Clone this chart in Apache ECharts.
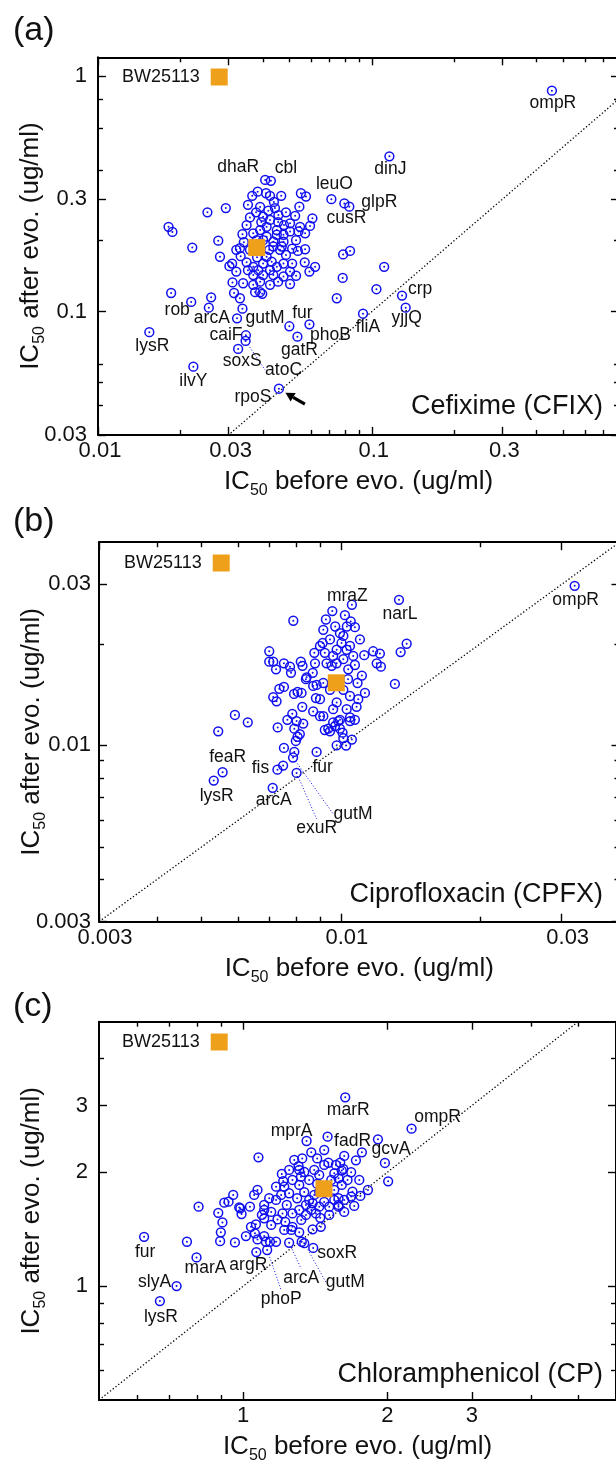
<!DOCTYPE html>
<html><head><meta charset="utf-8">
<script src="https://cdn.jsdelivr.net/npm/echarts@6/dist/echarts.min.js"></script>
<style>html,body{margin:0;padding:0;background:#fff}#c{width:616px;height:1464px}</style>
</head><body><div id="c"></div>
<script>
// ================= Panel (a): Cefixime =================
const aTitle = 'Cefixime (CFIX)';
const aGenes = ['ompR','dinJ','leuO','glpR','cusR','crp','yjjQ','fliA','phoB','lysR','ilvY','rob','arcA','gutM','caiF','atoC','soxS','rpoS','fur','gatR','dhaR','cbl'];
const aGeneX = [0.455,0.116,0.0712,0.0828,0.0607,0.129,0.133,0.0929,0.0592,0.0154,0.0223,0.0219,0.0254,0.0322,0.0347,0.0346,0.0325,0.0458,0.050,0.0535,0.0408,0.0428];
const aGeneY = [0.866,0.456,0.300,0.279,0.249,0.117,0.104,0.098,0.0884,0.0818,0.0584,0.110,0.104,0.0937,0.0794,0.0751,0.0695,0.0471,0.0867,0.0783,0.362,0.359];
const aX = [0.0794,0.104,0.111,0.0745,0.0783,0.0786,0.0833,0.0571,0.0569,0.0592,0.0621,0.0185,0.0259,0.0310,0.0314,0.0339,0.0330,0.0337,0.0369,0.0391,0.0398,0.0302,0.0279,0.0221,0.0275,0.0181,0.0187,0.0251,0.0293,0.0383,0.0411,0.0467,0.0439,0.0391,0.0419,0.0456,0.0401,0.0425,0.0551,0.0575,0.0544,0.0525,0.0349,0.0337,0.0369,0.0391,0.0413,0.0450,0.0476,0.0503,0.0540,0.0571,0.0401,0.0437,0.0469,0.0330,0.0547,0.0595,0.0332,0.0349,0.0537,0.0380,0.0413,0.0450,0.0476,0.0437,0.0462,0.0413,0.0431,0.0450,0.0476,0.0369,0.0385,0.0401,0.0369,0.0437,0.0476,0.0503,0.0401,0.0425,0.0359,0.0422,0.0381,0.0486,0.0512,0.0353,0.0391,0.0425,0.0455,0.0359,0.0378,0.0478,0.0503,0.0529,0.0512,0.0341,0.0320,0.0395,0.0455,0.0486,0.0353,0.0366,0.0425,0.0443,0.0309,0.0320,0.0503,0.0529,0.0375];
const aY = [0.288,0.1245,0.155,0.114,0.139,0.175,0.181,0.184,0.162,0.148,0.155,0.120,0.115,0.133,0.120,0.132,0.114,0.103,0.130,0.121,0.119,0.156,0.171,0.187,0.200,0.229,0.218,0.264,0.275,0.323,0.318,0.310,0.292,0.278,0.268,0.257,0.253,0.245,0.318,0.308,0.279,0.255,0.233,0.213,0.215,0.222,0.229,0.222,0.212,0.237,0.219,0.215,0.201,0.198,0.189,0.186,0.229,0.231,0.172,0.162,0.181,0.201,0.208,0.212,0.198,0.189,0.183,0.171,0.163,0.155,0.160,0.155,0.150,0.143,0.143,0.143,0.141,0.148,0.160,0.150,0.183,0.183,0.170,0.174,0.160,0.150,0.134,0.130,0.134,0.251,0.264,0.233,0.219,0.201,0.185,0.197,0.183,0.240,0.240,0.264,0.284,0.310,0.310,0.275,0.160,0.148,0.131,0.142,0.121];
const aWT = [0.038, 0.187];
const aXRange = [0.01, 0.8];
const aYRange = [0.03, 1.2];
const aXTicks = ['0.01','0.03','0.1','0.3'];
const aXMinor = [0.02,0.04,0.05,0.06,0.07,0.08,0.09,0.2,0.4,0.5,0.6,0.7];
const aYTicks = ['0.03','0.1','0.3','1'];
const aYMinor = [0.04,0.05,0.06,0.2,0.4,0.6,0.8];

// ================= Panel (b): Ciprofloxacin =================
const bTitle = 'Ciprofloxacin (CPFX)';
const bGenes = ['ompR','narL','mraZ','feaR','lysR','fis','arcA','fur','exuR','gutM'];
const bGeneX = [0.0320,0.01335,0.00958,0.00555,0.00531,0.00729,0.00712,0.00886,0.00802,0.00788];
const bGeneY = [0.0297,0.0270,0.0250,0.00832,0.00786,0.00847,0.00748,0.00956,0.00828,0.00920];
const bX = [0.0102,0.0105,0.0103,0.00972,0.00916,0.01387,0.01346,0.01308,0.01174,0.01214,0.01195,0.01220,0.01123,0.01086,0.01127,0.01081,0.00789,0.00700,0.00700,0.00714,0.00724,0.00753,0.00776,0.00780,0.00819,0.00826,0.00876,0.00879,0.00869,0.00901,0.00840,0.00886,0.00736,0.00753,0.00792,0.00806,0.00714,0.00726,0.00883,0.00825,0.00871,0.00785,0.00766,0.00802,0.00829,0.00730,0.00793,0.00806,0.00590,0.00629,0.00543,0.00901,0.00799,0.00753,0.00793,0.00750,0.00923,0.00947,0.00971,0.00987,0.01008,0.01012,0.00979,0.01046,0.00815,0.00843,0.00913,0.00923,0.00931,0.00962,0.00979,0.01003,0.01012,0.00995,0.01029,0.01046,0.01063,0.01037,0.00979,0.01012,0.00955,0.00871,0.00916,0.00822,0.00916,0.00962,0.00995,0.00939,0.00962,0.01029,0.01072,0.01046,0.00995,0.00901,0.00979,0.01046,0.01012,0.01090,0.00947,0.01036,0.01072,0.01099,0.00947,0.00928,0.01072,0.01056,0.01110,0.01056,0.01026];
const bY = [0.0243,0.0233,0.0225,0.0225,0.0220,0.0200,0.0189,0.0152,0.0190,0.0187,0.0175,0.0171,0.0185,0.0153,0.0143,0.0130,0.0234,0.0190,0.0177,0.0177,0.0168,0.0175,0.0171,0.0164,0.0177,0.0172,0.0188,0.0175,0.0164,0.0197,0.0157,0.0151,0.0147,0.0149,0.0142,0.0144,0.0139,0.0135,0.0138,0.0130,0.0126,0.0124,0.0119,0.0118,0.0116,0.0113,0.0112,0.0106,0.0123,0.0117,0.0110,0.0122,0.0103,0.00982,0.00956,0.00871,0.0111,0.0110,0.0114,0.0118,0.0109,0.0105,0.0100,0.0118,0.0108,0.0159,0.0201,0.0188,0.0175,0.0184,0.0192,0.0201,0.0211,0.0215,0.0192,0.0197,0.0184,0.0168,0.0175,0.0180,0.0172,0.0150,0.0153,0.0143,0.0122,0.0117,0.0112,0.0112,0.0128,0.0128,0.0119,0.0121,0.0119,0.0137,0.0134,0.0140,0.0146,0.0137,0.0146,0.0157,0.0173,0.0206,0.0206,0.0236,0.0224,0.0261,0.0161,0.0104,0.00998];
const bWT = [0.00977, 0.01532];
const bXRange = [0.003, 0.04];
const bYRange = [0.003, 0.04];
const bXTicks = ['0.003','0.01','0.03'];
const bXMinor = [0.004,0.005,0.006,0.007,0.008,0.009,0.02];
const bYTicks = ['0.003','0.01','0.03'];
const bYMinor = [0.004,0.005,0.006,0.007,0.008,0.009,0.02];

// ================= Panel (c): Chloramphenicol =================
const cTitle = 'Chloramphenicol (CP)';
const cGenes = ['marR','ompR','gcvA','fadR','mprA','fur','slyA','lysR','marA','argR','phoP','arcA','soxR','gutM'];
const cGeneX = [1.633,2.246,1.911,1.500,1.356,0.621,0.726,0.670,0.799,1.065,1.122,1.247,1.400,1.341];
const cGeneY = [3.156,2.607,2.444,2.483,2.419,1.350,1.0,0.913,1.191,1.230,1.246,1.302,1.262,1.299];
const cX = [1.769,1.719,1.976,2.007,1.821,1.387,1.625,1.594,1.561,1.506,1.606,1.549,1.651,1.581,1.606,1.581,1.512,1.581,1.691,1.680,1.076,1.071,1.204,1.305,0.807,0.953,0.932,0.913,1.033,0.981,1.106,1.171,1.218,1.267,1.320,1.247,1.171,1.133,0.763,0.887,0.905,0.898,0.895,0.961,0.986,0.992,1.038,1.063,1.013,1.058,1.071,1.106,1.115,1.137,1.171,1.106,1.106,1.325,1.309,1.267,1.224,1.179,1.208,1.267,1.309,1.352,1.396,1.396,1.452,1.352,1.418,1.441,1.581,1.309,1.341,1.373,1.407,1.441,1.476,1.341,1.373,1.407,1.441,1.476,1.549,1.549,1.625,1.625,1.512,1.448,1.296,1.233,1.200,1.278,1.328,1.427,1.476,1.527,1.497,1.387,1.322,1.260,1.218,1.144,1.094,1.144,1.054,1.309,1.247,1.212,1.427,1.618,1.680,1.747,1.705,1.756];
const cY = [2.258,2.150,2.116,1.892,1.795,2.258,2.209,2.119,2.091,2.119,2.020,1.987,1.908,1.928,1.851,1.707,1.622,1.622,1.777,1.725,2.190,1.796,1.980,2.077,1.622,1.742,1.672,1.662,1.622,1.614,1.639,1.690,1.832,1.908,1.947,1.760,1.832,1.707,1.310,1.562,1.474,1.387,1.315,1.305,1.606,1.551,1.435,1.457,1.356,1.379,1.329,1.356,1.310,1.310,1.310,1.511,1.590,1.310,1.387,1.435,1.479,1.501,1.557,1.557,1.590,1.639,1.656,1.413,1.435,1.542,1.557,1.622,1.639,1.851,1.773,1.908,2.028,1.967,2.091,2.003,1.690,1.742,1.773,1.669,1.796,1.690,1.690,1.571,1.542,1.515,1.707,1.639,1.742,2.155,2.176,2.176,2.290,1.908,1.796,1.590,1.496,1.408,1.408,1.451,1.542,1.571,1.742,2.028,2.028,1.895,1.863,2.041,2.000,1.908,1.629,1.731];
const cWT = [1.474, 1.809];
const cXRange = [0.5, 6];
const cYRange = [0.5, 5];
const cXTicks = ['1','2','3'];
const cXMinor = [0.6,0.7,0.8,0.9,4,5];
const cYTicks = ['1','2','3'];
const cYMinor = [0.6,0.7,0.8,0.9,4];

// ================= styling / layout (not data) =================
const FONT = '"Liberation Sans", Arial, Helvetica, sans-serif';
const BLUE = '#1010f0';
const ORANGE = '#eea01a';
const INK = '#111';
const L = Math.log10;

const panels = [
  {title:aTitle, genes:aGenes, gx:aGeneX, gy:aGeneY, x:aX, y:aY, wt:aWT, xr:aXRange, yr:aYRange,
   xt:aXTicks, xm:aXMinor, yt:aYTicks, ym:aYMinor, xPad:[0,0,0,4],
   grid:{left:98, top:57.3, width:521, height:377.6}, letter:'(a)', letterY:31, titleY:407,
   legend:{left:122, top:68}, leaders:['atoC'],
   off:{ompR:[1,12],dinJ:[1,13],leuO:[3,-15],glpR:[30,-4],cusR:[34,0],crp:[18,-6],yjjQ:[1,11],fliA:[5,13],phoB:[21,11],lysR:[3,14],ilvY:[0,14],rob:[-14,8],arcA:[3,11],gutM:[28,0],caiF:[-20,0],atoC:[38,29],soxS:[4,12],rpoS:[-26,8],fur:[13,-13],gatR:[2,13],dhaR:[-27,-13],cbl:[15,-13]}},
  {title:bTitle, genes:bGenes, gx:bGeneX, gy:bGeneY, x:bX, y:bY, wt:bWT, xr:bXRange, yr:bYRange,
   xt:bXTicks, xm:bXMinor, yt:bYTicks, ym:bYMinor, xPad:[0,0,0,12],
   grid:{left:99, top:542.2, width:520.5, height:379.5}, letter:'(b)', letterY:522, titleY:895,
   legend:{left:124, top:554}, leaders:['exuR','gutM'],
   off:{ompR:[1,14],narL:[1,14],mraZ:[15,-15],feaR:[5,-15],lysR:[3,16],fis:[-17,-1],arcA:[1,12],fur:[6,15],exuR:[20,55],gutM:[60,57]}},
  {title:cTitle, genes:cGenes, gx:cGeneX, gy:cGeneY, x:cX, y:cY, wt:cWT, xr:cXRange, yr:cYRange,
   xt:cXTicks, xm:cXMinor, yt:cYTicks, ym:cYMinor, xPad:[0,0,0,0],
   grid:{left:99, top:1021.7, width:517, height:378.3}, letter:'(c)', letterY:1007, titleY:1375,
   legend:{left:122, top:1033}, leaders:['phoP','arcA','gutM'],
   off:{marR:[3,13],ompR:[26,-12],gcvA:[13,10],fadR:[25,4],mprA:[-15,-10],fur:[1,15],slyA:[-22,-4],lysR:[1,16],marA:[9,11],argR:[-8,13],phoP:[14,49],arcA:[12,35],soxR:[24,5],gutM:[41,39]}}
];

const richName = () => ({
  a:{fontSize:26, fontFamily:FONT, color:INK, lineHeight:34},
  b:{fontSize:16, fontFamily:FONT, color:INK, lineHeight:14, verticalAlign:'bottom'}
});
const fmt = (labels) => (v) => {
  for (const s of labels) if (Math.abs(L(parseFloat(s)) - v) < 1e-6) return s;
  return '';
};

const grids = [], xAxes = [], yAxes = [], series = [], legends = [], graphics = [];
panels.forEach((P, i) => {
  grids.push(Object.assign({outerBoundsMode:'none', containLabel:false}, P.grid));
  const lx = P.xr.map(L), ly = P.yr.map(L);
  const majX = P.xt.map(s => L(parseFloat(s))), minX = P.xm.map(L);
  const majY = P.yt.map(s => L(parseFloat(s))), minY = P.ym.map(L);
  const line = {show:true, onZero:false, lineStyle:{color:'#000', width:2}};
  const noLine = {show:false, onZero:false};
  const tick = (vals, len) => ({show:true, inside:true, length:len, customValues:vals, lineStyle:{color:'#000', width:1.4}});
  const base = {gridIndex:i, type:'value', splitLine:{show:false}, nameMoveOverlap:false};
  xAxes.push(Object.assign({}, base, {min:lx[0], max:lx[1], position:'bottom', axisLine:line, axisTick:tick(majX, 8),
    axisLabel:{show:true, customValues:majX, formatter:fmt(P.xt), fontSize:22, color:INK, fontFamily:FONT, margin:5, padding:P.xPad},
    name:'{a|IC}{b|50}{a| before evo. (ug/ml)}', nameLocation:'middle', nameGap:30, nameTextStyle:{rich:richName()}}));
  xAxes.push(Object.assign({}, base, {min:lx[0], max:lx[1], position:'bottom', axisLine:noLine, axisTick:tick(minX, 5), axisLabel:{show:false}}));
  xAxes.push(Object.assign({}, base, {min:lx[0], max:lx[1], position:'top', axisLine:line, axisTick:tick(majX, 8), axisLabel:{show:false}}));
  xAxes.push(Object.assign({}, base, {min:lx[0], max:lx[1], position:'top', axisLine:noLine, axisTick:tick(minX, 5), axisLabel:{show:false}}));
  yAxes.push(Object.assign({}, base, {min:ly[0], max:ly[1], position:'left', axisLine:line, axisTick:tick(majY, 8),
    axisLabel:{show:true, customValues:majY, formatter:fmt(P.yt), fontSize:22, color:INK, fontFamily:FONT, margin:i===1?8:11},
    name:'{a|IC}{b|50}{a| after evo. (ug/ml)}', nameLocation:'middle', nameRotate:90, nameGap:50, nameTextStyle:{rich:richName()}}));
  yAxes.push(Object.assign({}, base, {min:ly[0], max:ly[1], position:'left', axisLine:noLine, axisTick:tick(minY, 5), axisLabel:{show:false}}));
  yAxes.push(Object.assign({}, base, {min:ly[0], max:ly[1], position:'right', axisLine:line, axisTick:tick(majY, 8), axisLabel:{show:false}}));
  yAxes.push(Object.assign({}, base, {min:ly[0], max:ly[1], position:'right', axisLine:noLine, axisTick:tick(minY, 5), axisLabel:{show:false}}));

  const xi = 4 * i, yi = 4 * i;
  const lo = Math.min(lx[0], ly[0]), hi = Math.max(lx[1], ly[1]);
  series.push({type:'line', xAxisIndex:xi, yAxisIndex:yi, data:[[lo, lo], [hi, hi]], symbol:'none', silent:true, clip:true,
    lineStyle:{color:'#000', width:1.3, type:[1.3, 2.2]}, z:1, animation:false});

  const labeled = P.genes.map((g, k) => {
    const lead = P.leaders.includes(g);
    return {value:[L(P.gx[k]), L(P.gy[k])], name:g,
      label:{show:true, formatter:g, position:'inside', fontSize:17.5, color:'#111', opacity:1,
             fontFamily:FONT, textBorderWidth:0},
      labelLine:lead ? {show:true, lineStyle:{color:BLUE, width:1, type:[1, 2], opacity:1}} : {show:false}};
  });
  const plain = P.x.map((v, k) => ({value:[L(v), L(P.y[k])]}));
  const all = labeled.concat(plain);
  series.push({type:'scatter', xAxisIndex:xi, yAxisIndex:yi, data:all, symbol:'circle', symbolSize:8.8,
    itemStyle:{color:'rgba(0,0,0,0)', borderColor:BLUE, borderWidth:1.5, opacity:1}, silent:true, z:3, animation:false,
    labelLayout:(p) => {
      const g = P.genes[p.dataIndex];
      if (g) { const o = P.off[g] || [0, 12]; return {dx:o[0], dy:o[1]}; }
      return {};
    }});
  series.push({type:'scatter', xAxisIndex:xi, yAxisIndex:yi, data:all.map(d => d.value), symbol:'circle', symbolSize:2,
    itemStyle:{color:BLUE, opacity:1}, silent:true, z:4, animation:false});
  series.push({type:'scatter', name:'BW25113', xAxisIndex:xi, yAxisIndex:yi, data:[[L(P.wt[0]), L(P.wt[1])]],
    symbol:'rect', symbolSize:17, itemStyle:{color:ORANGE, opacity:1}, silent:true, z:6, animation:false});

  legends.push({data:['BW25113'], left:P.legend.left, top:P.legend.top, align:'right', icon:'rect', itemWidth:17, itemHeight:17,
    padding:0, selectedMode:false, itemStyle:{opacity:1},
    textStyle:{fontSize:18, color:INK, fontFamily:FONT, padding:[0, 6, 0, 0]}});

  graphics.push({type:'text', id:'letter' + i, x:13, y:P.letterY, style:{text:P.letter, fontSize:34, fontFamily:FONT, fill:INK,
    align:'left', verticalAlign:'middle'}});
  graphics.push({type:'text', id:'title' + i, x:603, y:P.titleY, style:{text:P.title, fontSize:27, fontFamily:FONT, fill:INK,
    align:'right', verticalAlign:'middle'}});
});

const chart = echarts.init(document.getElementById('c'), null, {renderer:'canvas'});
chart.setOption({animation:false, backgroundColor:'#fff', grid:grids, xAxis:xAxes, yAxis:yAxes, series:series,
  legend:legends, graphic:graphics});

// arrow pointing at rpoS in panel (a)
const k = aGenes.indexOf('rpoS');
const pt = chart.convertToPixel({gridIndex:0}, [L(aGeneX[k]), L(aGeneY[k])]);
const tip = [pt[0] + 6.5, pt[1] + 4], tail = [pt[0] + 26, pt[1] + 15.5];
const dx = tail[0] - tip[0], dy = tail[1] - tip[1], len = Math.hypot(dx, dy);
const ux = dx / len, uy = dy / len, nx = -uy, ny = ux;
const hb = [tip[0] + ux * 9, tip[1] + uy * 9];
chart.setOption({graphic: graphics.concat([
  {type:'line', id:'arrowShaft', shape:{x1:hb[0], y1:hb[1], x2:tail[0], y2:tail[1]}, style:{stroke:'#000', lineWidth:3.2}},
  {type:'polygon', id:'arrowHead', shape:{points:[tip, [hb[0] + nx * 5, hb[1] + ny * 5], [hb[0] - nx * 5, hb[1] - ny * 5]]}, style:{fill:'#000'}}
])});
</script></body></html>
